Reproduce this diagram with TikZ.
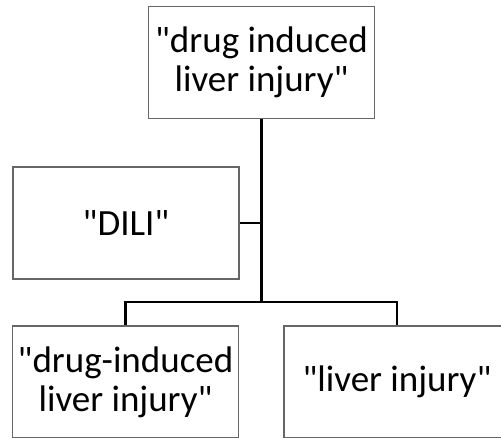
\documentclass[tikz,border=0pt]{standalone}
\usepackage{fontspec}
\setmainfont{Carlito}[Ligatures=TeXOff]
\begin{document}
\begin{tikzpicture}[x=1pt,y=-1pt,
  box/.style={draw=gray!80!black, line width=1.2pt, fill=white, minimum width=226pt, minimum height=112pt, inner sep=0pt, align=center, font=\fontsize{37}{39}\selectfont},
  conn/.style={line width=2.6pt, black}]
\useasboundingbox (0,0) rectangle (501,437);
\clip (0,0) rectangle (501,437);
\node[box] (top) at (261.5,62.5) {"drug induced\\liver injury"};
\node[box] (dili) at (126,223) {"DILI"};
\node[box] (bl) at (125.5,382) {"drug-induced\\liver injury"};
\node[box] (br) at (397,382) {"liver injury"};
\coordinate (j) at (top.south |- 0,302);
\draw[conn] (top.south) -- (j);
\draw[conn] (dili.east) -- (dili.east -| top.south);
\draw[conn] (bl.north) |- (j) -| (br.north);
\end{tikzpicture}
\end{document}
